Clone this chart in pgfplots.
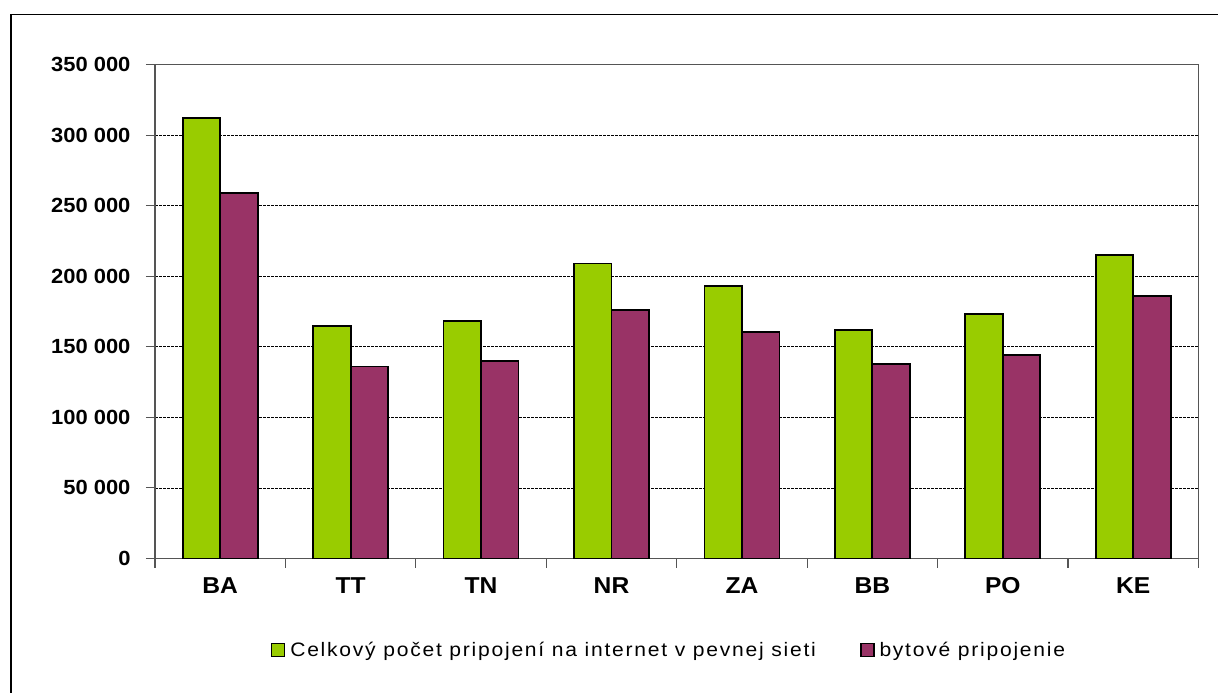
\documentclass[border=0pt]{standalone}
\usepackage{fontspec}
\setmainfont{Liberation Sans}
\newfontfamily\tickfont[FakeStretch=1.07]{Liberation Sans}
\newfontfamily\legfont[FakeStretch=1.08,LetterSpace=9]{Liberation Sans}
\usepackage{pgfplots}
\pgfplotsset{compat=1.18}
\definecolor{cgreen}{HTML}{99CC00}
\definecolor{cpurple}{HTML}{993366}
\definecolor{axgray}{HTML}{555555}
\begin{document}
\begin{tikzpicture}[x=1pt,y=1pt]
\useasboundingbox (0,0) rectangle (1218,693);
\draw[line width=1.3pt,black] (11,-20) -- (11,678.5) -- (1240,678.5);
\begin{axis}[
  at={(155pt,134.5pt)}, anchor=south west,
  scale only axis, width=1043.5pt, height=494pt,
  xmin=-0.5, xmax=7.5, ymin=0, ymax=350000,
  enlarge x limits=false,
  ybar=0pt, bar width=37.5pt,
  xtick={-0.5,0.5,...,7.5},
  x tick label as interval,
  xticklabels={BA,TT,TN,NR,ZA,BB,PO,KE},
  ytick={0,50000,...,350000},
  yticklabels={0,50 000,100 000,150 000,200 000,250 000,300 000,350 000},
  scaled y ticks=false,
  tick align=outside,
  major tick length=9pt,
  tick style={axgray,line width=1.1pt},
  xtick pos=bottom, ytick pos=left,
  axis line style={axgray,line width=1.2pt},
  ymajorgrids,
  grid style={black,dashed,line width=0.7pt,dash pattern=on 2.5pt off 1.5pt},
  yticklabel style={font=\tickfont\bfseries\fontsize{20.5}{20.5}\selectfont, xshift=-12pt},
  xticklabel style={font=\tickfont\bfseries\fontsize{23}{23}\selectfont, text height=16.5pt, text depth=0pt, yshift=-6pt},
  legend style={at={(0.4925,-0.185)}, anchor=center, draw=none, fill=none,
    legend columns=2, font=\legfont\fontsize{19.5}{19.5}\selectfont,
    /tikz/every odd column/.append style={column sep=3pt},
    /tikz/every even column/.append style={column sep=42pt},
    legend cell align=left},
  legend image code/.code={\draw[#1,draw=black,line width=1.6pt] (0pt,-6.5pt) rectangle (13pt,6.5pt);},
]
\addplot[fill=cgreen,draw=black,line width=1.8pt] coordinates {
 (0,312000) (1,165000) (2,168000) (3,209000) (4,193000) (5,162000) (6,173000) (7,215000)};
\addplot[fill=cpurple,draw=black,line width=1.8pt] coordinates {
 (0,259000) (1,136000) (2,140000) (3,176000) (4,160500) (5,138000) (6,144000) (7,186000)};
\legend{Celkový počet pripojení na internet v pevnej sieti, bytové pripojenie}
\end{axis}
\end{tikzpicture}
\end{document}
